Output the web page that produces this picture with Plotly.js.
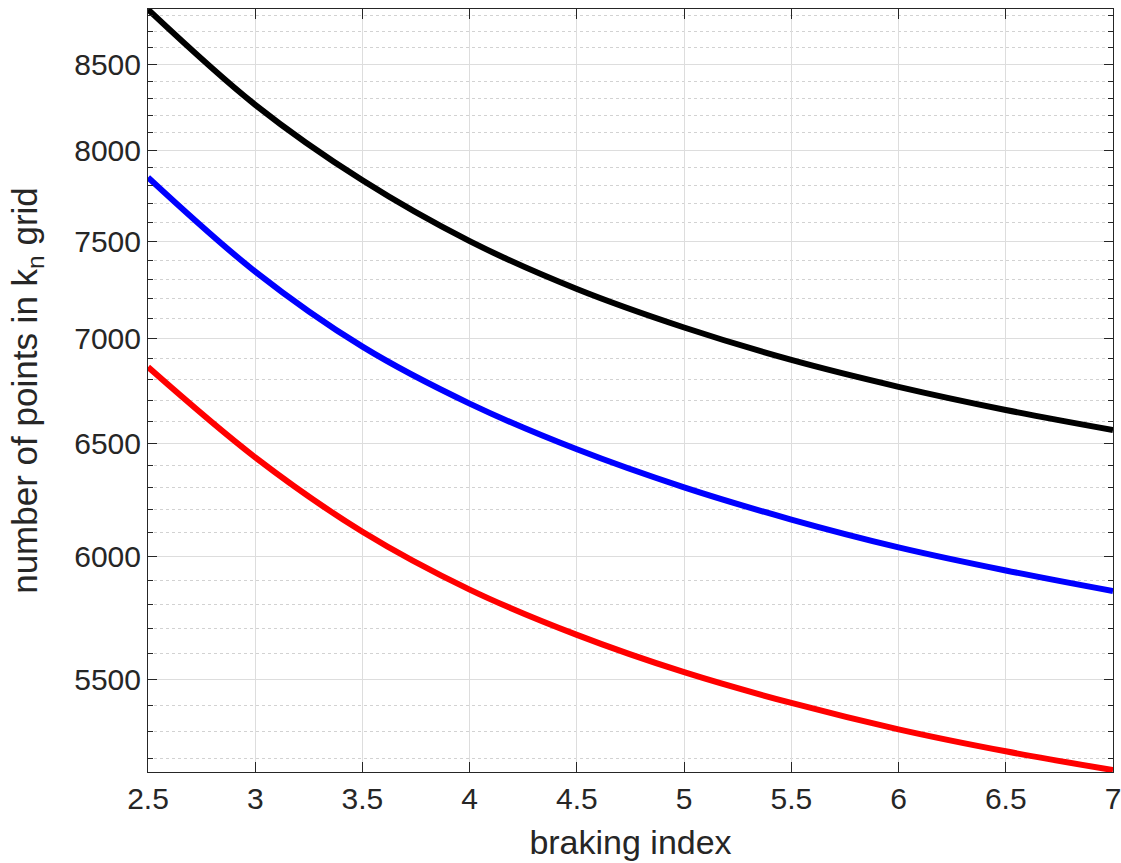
<!DOCTYPE html>
<html>
<head>
<meta charset="utf-8">
<script src="https://cdn.plot.ly/plotly-3.0.1.min.js"></script>
<style>html,body{margin:0;padding:0;background:#fff;}#chart{width:1121px;height:863px;}</style>
</head>
<body>
<div id="chart"></div>
<script>
// braking index (x) and number of points in k_n grid for three curves
const brakingIndex = [2.5, 3, 3.5, 4, 4.5, 5, 5.5, 6, 6.5, 7];
const blackSeries = [8837, 8260, 7830, 7500, 7250, 7055, 6895, 6765, 6655, 6561];
const blueSeries  = [7846, 7340, 6960, 6685, 6472, 6300, 6158, 6038, 5940, 5854];
const redSeries   = [6860, 6435, 6105, 5860, 5675, 5527, 5408, 5308, 5226, 5157];

const xTickVals = [2.5, 3, 3.5, 4, 4.5, 5, 5.5, 6, 6.5, 7];
const xTickText = ['2.5', '3', '3.5', '4', '4.5', '5', '5.5', '6', '6.5', '7'];
const yTickVals = [5500, 6000, 6500, 7000, 7500, 8000, 8500];
const yTickText = ['5500', '6000', '6500', '7000', '7500', '8000', '8500'];
const yMinorVals = [5200, 5300, 5400, 5600, 5700, 5800, 5900, 6100, 6200, 6300, 6400,
  6600, 6700, 6800, 6900, 7100, 7200, 7300, 7400, 7600, 7700, 7800, 7900,
  8100, 8200, 8300, 8400, 8600, 8700, 8800];

const mk = (y, color) => ({
  x: brakingIndex, y: y, type: 'scatter', mode: 'lines',
  line: {color: color, width: 6, shape: 'spline', smoothing: 1},
  showlegend: false, hoverinfo: 'x+y'
});

const data = [mk(blackSeries, '#000000'), mk(blueSeries, '#0000ff'), mk(redSeries, '#ff0000')];

const fontFam = '"Liberation Sans", Arial, Helvetica, sans-serif';
const axisColor = '#262626';

const layout = {
  width: 1121, height: 863,
  margin: {l: 148, r: 8, t: 9, b: 91},
  paper_bgcolor: '#ffffff', plot_bgcolor: '#ffffff',
  font: {family: fontFam, color: axisColor},
  xaxis: {
    range: [2.4999, 7.0001],
    tickmode: 'array', tickvals: xTickVals, ticktext: xTickText,
    ticks: 'inside', ticklen: 10, tickwidth: 1, tickcolor: axisColor,
    ticklabeloverflow: 'allow',
    showline: true, linecolor: axisColor, linewidth: 1, mirror: 'allticks',
    showgrid: true, gridcolor: '#dddddd', gridwidth: 1,
    zeroline: false,
    tickfont: {size: 30, family: fontFam, color: axisColor},
    title: {text: 'braking index', font: {size: 34, family: fontFam, color: axisColor}, standoff: 16},
    automargin: false
  },
  yaxis: {
    type: 'log',
    range: [Math.log10(5150), Math.log10(8840)],
    tickmode: 'array', tickvals: yTickVals, ticktext: yTickText,
    ticks: 'inside', ticklen: 9, tickwidth: 1, tickcolor: axisColor,
    showline: true, linecolor: axisColor, linewidth: 1, mirror: 'allticks',
    showgrid: true, gridcolor: '#dddddd', gridwidth: 1,
    zeroline: false,
    tickfont: {size: 30, family: fontFam, color: axisColor},
    minor: {
      tickmode: 'array', tickvals: yMinorVals,
      ticks: 'inside', ticklen: 5, tickcolor: axisColor, tickwidth: 1,
      showgrid: true, gridcolor: '#d2d2d2', gridwidth: 1, griddash: 'dot'
    },
    title: {text: 'number of points in k<sub>n</sub> grid', font: {size: 35, family: fontFam, color: axisColor}, standoff: 26},
    automargin: false
  }
};

Plotly.newPlot('chart', data, layout, {displayModeBar: false, staticPlot: true});
</script>
</body>
</html>
